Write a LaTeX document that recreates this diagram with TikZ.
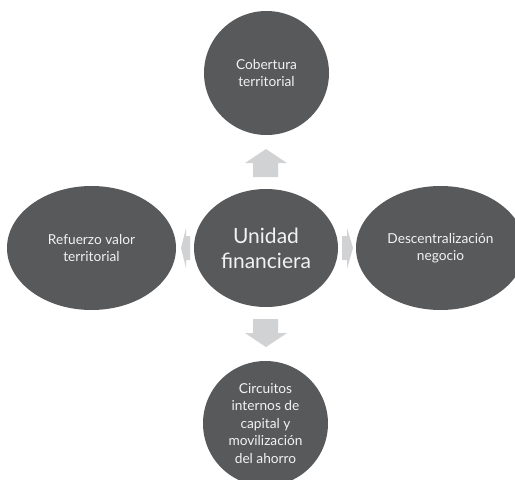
\documentclass[tikz,border=0pt]{standalone}
\usepackage{fontspec}
\setmainfont{Lato}
\usetikzlibrary{shapes.geometric}
\definecolor{bubble}{HTML}{58595B}
\definecolor{arrowgray}{HTML}{D1D2D4}
\definecolor{txt}{HTML}{F2F2F2}
\tikzset{
  bubble/.style={ellipse, fill=bubble, draw=none, inner sep=0pt, text=txt, align=center,
    font=\fontsize{13.7}{17.5}\selectfont},
  blockarrow/.style={fill=arrowgray, draw=none},
}
\begin{document}
\begin{tikzpicture}[x=1pt,y=-1pt]
\useasboundingbox[fill=white] (0,0) rectangle (515,480);
\node[bubble, minimum width=144, minimum height=118, font=\fontsize{21}{25}\selectfont] (c) at (266,248) {Unidad\\financiera};
\node[bubble, minimum width=125, minimum height=124] (t) at (266.5,73) {Cobertura\\territorial};
\node[bubble, minimum width=169, minimum height=124] (l) at (91.5,248) {Refuerzo valor\\territorial};
\node[bubble, minimum width=169, minimum height=124] (r) at (440.5,248) {Descentralización\\negocio};
\node[bubble, minimum width=125, minimum height=125] (b) at (265.5,423.5) {Circuitos\\internos de\\capital y\\movilización\\del ahorro};
% up arrow
\fill[blockarrow] (253,177) -- (253,163) -- (245,163) -- (266,149) -- (287,163) -- (278,163) -- (278,177) -- cycle;
% down arrow
\fill[blockarrow] (253,319) -- (253,333) -- (245,333) -- (266,347) -- (287,333) -- (278,333) -- (278,319) -- cycle;
% left arrow
\fill[blockarrow] (190,236) -- (186,236) -- (186,228) -- (181,248) -- (186,268) -- (186,260) -- (190,260) -- cycle;
% right arrow
\fill[blockarrow] (342,236) -- (347,236) -- (347,228) -- (353,248) -- (347,269) -- (347,260) -- (342,260) -- cycle;
\end{tikzpicture}
\end{document}
